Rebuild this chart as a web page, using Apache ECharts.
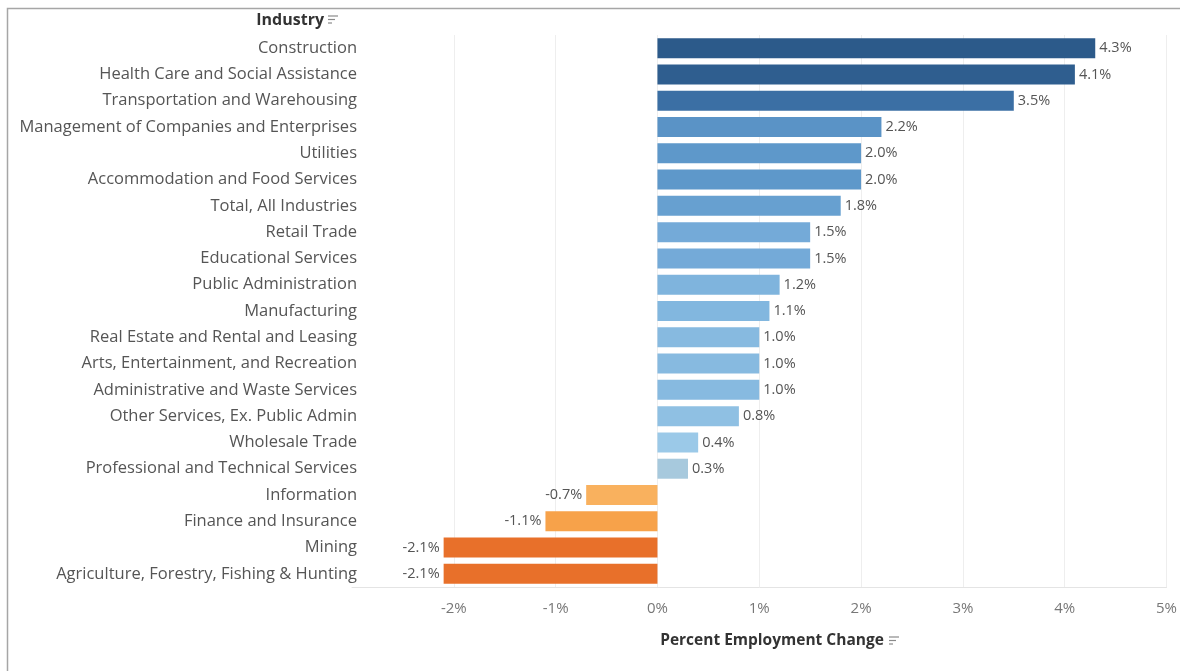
<!DOCTYPE html>
<html>
<head>
<meta charset="utf-8">
<title>Percent Employment Change by Industry</title>
<script src="https://cdn.jsdelivr.net/npm/echarts@6/dist/echarts.min.js"></script>
<style>
  html, body { margin: 0; padding: 0; background: #fff; }
  #chart { width: 1180px; height: 671px; }
</style>
</head>
<body>
<div id="chart"></div>
<script>
// Industries, top to bottom
const industries = [
  'Construction',
  'Health Care and Social Assistance',
  'Transportation and Warehousing',
  'Management of Companies and Enterprises',
  'Utilities',
  'Accommodation and Food Services',
  'Total, All Industries',
  'Retail Trade',
  'Educational Services',
  'Public Administration',
  'Manufacturing',
  'Real Estate and Rental and Leasing',
  'Arts, Entertainment, and Recreation',
  'Administrative and Waste Services',
  'Other Services, Ex. Public Admin',
  'Wholesale Trade',
  'Professional and Technical Services',
  'Information',
  'Finance and Insurance',
  'Mining',
  'Agriculture, Forestry, Fishing & Hunting'
];

// Percent employment change
const pctChange = [4.3, 4.1, 3.5, 2.2, 2.0, 2.0, 1.8, 1.5, 1.5, 1.2, 1.1, 1.0, 1.0, 1.0, 0.8, 0.4, 0.3, -0.7, -1.1, -2.1, -2.1];

// Axis ticks (percent)
const xTicks = [-2, -1, 0, 1, 2, 3, 4, 5];

// Diverging orange-blue fill per row
const barColors = [
  '#2c5a8a', '#2f5e8f', '#3b6fa4', '#5a93c6', '#5e98ca', '#5e98ca', '#67a0d0',
  '#74aad8', '#74aad8', '#7fb4dd', '#82b7df', '#87bae0', '#87bae0', '#87bae0',
  '#8fc0e3', '#9bc9e8', '#a7c9dd', '#f9b15e', '#f7a24a', '#e8702a', '#e8702a'
];

const FONT = '"Open Sans", "Noto Sans", sans-serif';

const chart = echarts.init(document.getElementById('chart'), null, { renderer: 'canvas' });

const barData = pctChange.map((v, i) => ({
  value: v,
  itemStyle: { color: barColors[i] },
  label: { position: v < 0 ? 'left' : 'right' }
}));

// small "sorted" glyph: three stacked strokes of decreasing length
function sortIcon(x, y) {
  const lens = [10, 7, 4];
  return {
    type: 'group',
    x: x, y: y,
    children: lens.map((l, k) => ({
      type: 'line',
      shape: { x1: 0, y1: k * 3.5, x2: l, y2: k * 3.5 },
      style: { stroke: '#8a8a8a', lineWidth: 1.2 }
    }))
  };
}

chart.setOption({
  backgroundColor: '#ffffff',
  animation: false,
  textStyle: { fontFamily: FONT },
  grid: { left: 352, right: 8, top: 35, bottom: 84, containLabel: false },
  xAxis: {
    type: 'value',
    min: -3,
    max: 5,
    interval: 1,
    axisLine: { show: true, lineStyle: { color: '#e4e4e4', width: 1 } },
    axisTick: { show: false },
    splitLine: { show: true, showMinLine: false, lineStyle: { color: '#eeeeee', width: 1 } },
    axisLabel: {
      color: '#777777',
      fontSize: 15,
      fontFamily: FONT,
      margin: 14,
      formatter: v => (xTicks.indexOf(v) >= 0 ? v + '%' : '')
    }
  },
  yAxis: {
    type: 'category',
    data: industries,
    inverse: true,
    axisLine: { show: false },
    axisTick: { show: false },
    splitLine: { show: false },
    axisLabel: {
      color: '#555555',
      fontSize: 16.5,
      fontFamily: FONT,
      margin: -5
    }
  },
  series: [{
    type: 'bar',
    data: barData,
    barWidth: 20,
    label: {
      show: true,
      distance: 4,
      color: '#555555',
      fontSize: 14.5,
      fontFamily: FONT,
      formatter: p => p.value.toFixed(1) + '%'
    }
  }],
  graphic: [
    {
      type: 'rect',
      shape: { x: 7.5, y: 8.5, width: 1200, height: 700 },
      style: { fill: 'none', stroke: '#a6a6a6', lineWidth: 1.5 },
      silent: true
    },
    {
      type: 'text',
      x: 324, y: 20,
      style: {
        text: 'Industry',
        font: 'bold 16px ' + FONT,
        fill: '#333333',
        textAlign: 'right',
        textVerticalAlign: 'middle'
      }
    },
    sortIcon(328, 16),
    {
      type: 'text',
      x: 772, y: 641,
      style: {
        text: 'Percent Employment Change',
        font: 'bold 15.5px ' + FONT,
        fill: '#333333',
        textAlign: 'center',
        textVerticalAlign: 'middle'
      }
    },
    sortIcon(889, 637)
  ]
});
</script>
</body>
</html>
